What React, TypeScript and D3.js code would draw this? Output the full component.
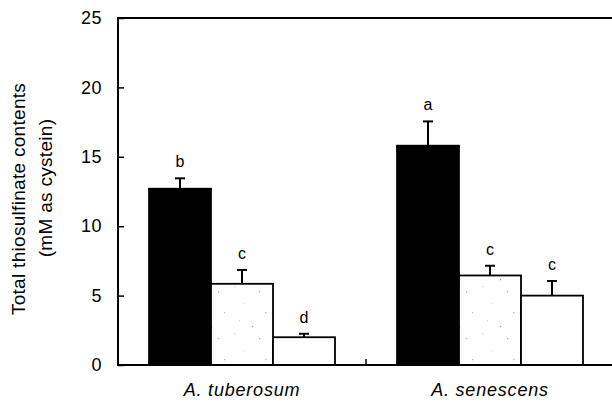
import React, { useEffect, useRef } from "react";
import * as d3 from "d3";

// species on the x axis
const species = ["A. tuberosum", "A. senescens"];
// three treatments per species (black, stippled, white bars)
const treatments = ["t1", "t2", "t3"];

const tuberosumMeans = [12.7, 5.85, 2.0];
const tuberosumErrors = [0.75, 1.0, 0.25];
const tuberosumLetters = ["b", "c", "d"];

const senescensMeans = [15.8, 6.45, 5.0];
const senescensErrors = [1.75, 0.7, 1.05];
const senescensLetters = ["a", "c", "c"];

const yTicks = [0, 5, 10, 15, 20, 25];

const App = () => {
  const svgRef = useRef<SVGSVGElement>(null);

  useEffect(() => {
    const width = 612;
    const height = 403;
    const margin = { top: 18, right: -2, bottom: 38, left: 118 };
    const font = "'Liberation Sans', Arial, Helvetica, sans-serif";

    const svg = d3.select(svgRef.current)
      .attr("width", width)
      .attr("height", height)
      .style("position", "absolute")
      .style("left", "0px")
      .style("top", "0px")
      .style("background", "#fff");

    svg.selectAll("*").remove();

    // sparse speckle fill for the middle bars
    const pattern = svg.append("defs").append("pattern")
      .attr("id", "speckle")
      .attr("patternUnits", "userSpaceOnUse")
      .attr("width", 41)
      .attr("height", 47);
    pattern.append("rect").attr("width", 41).attr("height", 47).attr("fill", "#fefefe");
    [[3, 4, "#ddd"], [28, 9, "#aaa"], [12, 21, "#e2e2e2"], [34, 30, "#bbb"], [8, 38, "#ddd"], [21, 44, "#999"]].forEach(([x, y, c]) => {
      pattern.append("rect").attr("x", x).attr("y", y).attr("width", 1.2).attr("height", 1.2).attr("fill", c as string);
    });
    const fills = ["#000", "url(#speckle)", "#fff"];

    const data = [
      { name: species[0], means: tuberosumMeans, errors: tuberosumErrors, letters: tuberosumLetters },
      { name: species[1], means: senescensMeans, errors: senescensErrors, letters: senescensLetters },
    ];

    const x0 = d3.scaleBand()
      .domain(species)
      .range([margin.left, width - margin.right])
      .paddingInner(0.25)
      .paddingOuter(0.125);

    const x1 = d3.scaleBand()
      .domain(treatments)
      .range([0, x0.bandwidth()])
      .padding(0);

    const y = d3.scaleLinear()
      .domain([0, 25])
      .range([height - margin.bottom, margin.top]);

    // bars
    data.forEach(group => {
      const g = svg.append("g").attr("transform", `translate(${x0(group.name)},0)`);
      treatments.forEach((t, i) => {
        const bx = x1(t)!;
        const bw = x1.bandwidth();
        const v = group.means[i];
        const top = y(group.means[i] + group.errors[i]);
        g.append("line")
          .attr("x1", bx + bw / 2).attr("x2", bx + bw / 2)
          .attr("y1", y(v)).attr("y2", top)
          .attr("stroke", "#000").attr("stroke-width", 2);
        g.append("line")
          .attr("x1", bx + bw / 2 - 5).attr("x2", bx + bw / 2 + 5)
          .attr("y1", top).attr("y2", top)
          .attr("stroke", "#000").attr("stroke-width", 2);
        g.append("rect")
          .attr("x", bx)
          .attr("y", y(v))
          .attr("width", bw)
          .attr("height", y(0) - y(v))
          .attr("fill", fills[i])
          .attr("stroke", "#000")
          .attr("stroke-width", 1.8);
        g.append("text")
          .attr("x", bx + bw / 2)
          .attr("y", top - 11)
          .attr("text-anchor", "middle")
          .style("font-family", font)
          .style("font-size", "16px")
          .text(group.letters[i]);
      });
    });

    // frame
    svg.append("rect")
      .attr("x", margin.left)
      .attr("y", margin.top)
      .attr("width", width - margin.right - margin.left)
      .attr("height", y(0) - margin.top)
      .attr("fill", "none")
      .attr("stroke", "#000")
      .attr("stroke-width", 2);

    // y axis, ticks pointing inward
    const yAxis = svg.append("g")
      .attr("transform", `translate(${margin.left},0)`)
      .call(d3.axisLeft(y).tickValues(yTicks).tickSize(-6).tickPadding(16).tickFormat(d3.format("d")));
    yAxis.select(".domain").remove();
    yAxis.selectAll("line").attr("stroke", "#000").attr("stroke-width", 1.5);
    yAxis.selectAll("text")
      .style("font-family", font)
      .style("font-size", "18px")
      .style("letter-spacing", "0.5px")
      .attr("fill", "#000");

    // tick separating the two species groups
    const sep = (x0(species[0])! + x0.bandwidth() + x0(species[1])!) / 2;
    svg.append("line")
      .attr("x1", sep).attr("x2", sep)
      .attr("y1", y(0)).attr("y2", y(0) - 6)
      .attr("stroke", "#000").attr("stroke-width", 1.5);

    // x labels
    species.forEach(s => {
      svg.append("text")
        .attr("x", x0(s)! + x0.bandwidth() / 2)
        .attr("y", 396)
        .attr("text-anchor", "middle")
        .style("font-family", font)
        .style("font-size", "18px")
        .style("font-style", "italic")
        .style("letter-spacing", "0.8px")
        .text(s);
    });

    // y title
    svg.append("text")
      .attr("transform", "translate(25,199) rotate(-90)")
      .attr("text-anchor", "middle")
      .style("font-family", font)
      .style("font-size", "19px")
      .style("letter-spacing", "0.3px")
      .text("Total thiosulfinate contents");
    svg.append("text")
      .attr("transform", "translate(52,188) rotate(-90)")
      .attr("text-anchor", "middle")
      .style("font-family", font)
      .style("font-size", "19px")
      .style("letter-spacing", "0.3px")
      .text("(mM as cystein)");
  }, []);

  return <svg ref={svgRef}></svg>;
};

export default App;
